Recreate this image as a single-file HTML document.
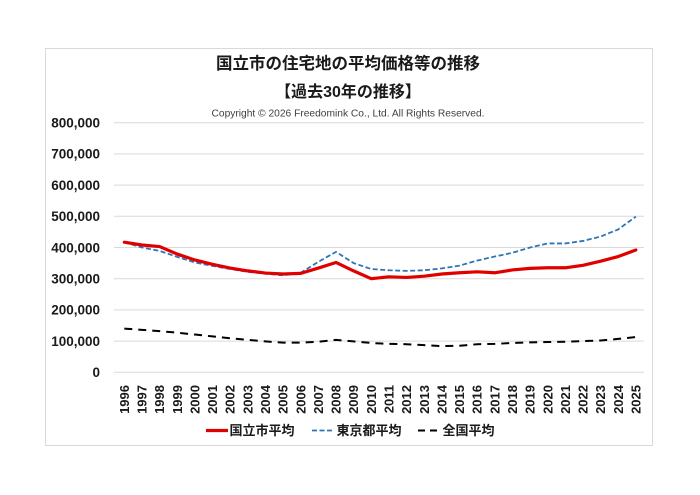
<!DOCTYPE html>
<html>
<head>
<meta charset="utf-8">
<style>
html,body{margin:0;padding:0;background:#fff;}
svg{display:block;}
text{font-family:"Liberation Sans","Noto Sans CJK JP",sans-serif;}
</style>
</head>
<body>
<svg width="700" height="495" viewBox="0 0 700 495" xmlns="http://www.w3.org/2000/svg">
<rect x="0" y="0" width="700" height="495" fill="#fff"/>
<rect x="45.5" y="48.5" width="607" height="397" fill="#fff" stroke="#d9d9d9" stroke-width="1"/>

<!-- titles -->
<text x="348" y="69" font-size="16.5" font-weight="bold" text-anchor="middle" fill="#1a1a1a">国立市の住宅地の平均価格等の推移</text>
<text x="348" y="97" font-size="16" font-weight="bold" text-anchor="middle" fill="#1a1a1a">【過去30年の推移】</text>
<text x="348" y="116.5" font-size="10.5" text-anchor="middle" fill="#404040" textLength="273" lengthAdjust="spacingAndGlyphs">Copyright © 2026 Freedomink Co., Ltd. All Rights Reserved.</text>

<!-- gridlines -->
<g stroke="#d9d9d9" stroke-width="1">
<line x1="114" y1="122.7" x2="644" y2="122.7"/>
<line x1="114" y1="153.9" x2="644" y2="153.9"/>
<line x1="114" y1="185.1" x2="644" y2="185.1"/>
<line x1="114" y1="216.3" x2="644" y2="216.3"/>
<line x1="114" y1="247.5" x2="644" y2="247.5"/>
<line x1="114" y1="278.7" x2="644" y2="278.7"/>
<line x1="114" y1="309.9" x2="644" y2="309.9"/>
<line x1="114" y1="341.1" x2="644" y2="341.1"/>
<line x1="114" y1="372.3" x2="644" y2="372.3"/>
</g>

<!-- y labels -->
<g font-size="13.5" font-weight="bold" text-anchor="end" fill="#1a1a1a">
<text x="100" y="127.5">800,000</text>
<text x="100" y="158.7">700,000</text>
<text x="100" y="189.9">600,000</text>
<text x="100" y="221.1">500,000</text>
<text x="100" y="252.3">400,000</text>
<text x="100" y="283.5">300,000</text>
<text x="100" y="314.7">200,000</text>
<text x="100" y="345.9">100,000</text>
<text x="100" y="377.1">0</text>
</g>

<!-- x labels -->
<g font-size="13" font-weight="bold" text-anchor="end" fill="#1a1a1a">
<text transform="translate(128.9,385) rotate(-90)">1996</text>
<text transform="translate(146.5,385) rotate(-90)">1997</text>
<text transform="translate(164.2,385) rotate(-90)">1998</text>
<text transform="translate(181.8,385) rotate(-90)">1999</text>
<text transform="translate(199.5,385) rotate(-90)">2000</text>
<text transform="translate(217.1,385) rotate(-90)">2001</text>
<text transform="translate(234.7,385) rotate(-90)">2002</text>
<text transform="translate(252.4,385) rotate(-90)">2003</text>
<text transform="translate(270.0,385) rotate(-90)">2004</text>
<text transform="translate(287.7,385) rotate(-90)">2005</text>
<text transform="translate(305.3,385) rotate(-90)">2006</text>
<text transform="translate(322.9,385) rotate(-90)">2007</text>
<text transform="translate(340.6,385) rotate(-90)">2008</text>
<text transform="translate(358.2,385) rotate(-90)">2009</text>
<text transform="translate(375.9,385) rotate(-90)">2010</text>
<text transform="translate(393.5,385) rotate(-90)">2011</text>
<text transform="translate(411.1,385) rotate(-90)">2012</text>
<text transform="translate(428.8,385) rotate(-90)">2013</text>
<text transform="translate(446.4,385) rotate(-90)">2014</text>
<text transform="translate(464.1,385) rotate(-90)">2015</text>
<text transform="translate(481.7,385) rotate(-90)">2016</text>
<text transform="translate(499.3,385) rotate(-90)">2017</text>
<text transform="translate(517.0,385) rotate(-90)">2018</text>
<text transform="translate(534.6,385) rotate(-90)">2019</text>
<text transform="translate(552.3,385) rotate(-90)">2020</text>
<text transform="translate(569.9,385) rotate(-90)">2021</text>
<text transform="translate(587.5,385) rotate(-90)">2022</text>
<text transform="translate(605.2,385) rotate(-90)">2023</text>
<text transform="translate(622.8,385) rotate(-90)">2024</text>
<text transform="translate(640.5,385) rotate(-90)">2025</text>
</g>

<!-- series -->
<g transform="translate(124.3,372.3) scale(17.64,-0.312)" fill="none">
<polyline vector-effect="non-scaling-stroke" stroke="#000" stroke-width="2" stroke-dasharray="8,6"
points="0,140 1,136 2,132 3,127 4,121 5,115 6,109 7,104 8,99 9,95 10,95 11,98 12,104 13,99 14,94 15,91 16,90 17,87 18,84 19,85 20,90 21,91 22,94 23,96 24,97 25,98 26,100 27,102 28,107 29,113"/>
<polyline vector-effect="non-scaling-stroke" stroke="#2e75b6" stroke-width="1.8" stroke-dasharray="5,2.5" stroke-linejoin="round"
points="0,417 1,400 2,389 3,370 4,352 5,341 6,331 7,322 8,316 9,311 10,319 11,354 12,386 13,350 14,331 15,327 16,325 17,327 18,333 19,342 20,358 21,371 22,383 23,400 24,413 25,413 26,421 27,435 28,458 29,499"/>
<polyline vector-effect="non-scaling-stroke" stroke="#e00000" stroke-width="3.2" stroke-linejoin="round" stroke-linecap="round"
points="0,417 1,408 2,403 3,379 4,360 5,346 6,334 7,325 8,318 9,315 10,317 11,334 12,352 13,325 14,300 15,306 16,304 17,308 18,315 19,319 20,322 21,319 22,328 23,333 24,335 25,335 26,343 27,356 28,371 29,392"/>
</g>

<!-- legend -->
<line x1="206" y1="430.5" x2="228" y2="430.5" stroke="#e00000" stroke-width="3.2"/>
<text x="229.5" y="435.2" font-size="13" font-weight="bold" fill="#1a1a1a">国立市平均</text>
<line x1="312" y1="430.5" x2="332" y2="430.5" stroke="#2e75b6" stroke-width="1.8" stroke-dasharray="5,2.5"/>
<text x="336.5" y="435.2" font-size="13" font-weight="bold" fill="#1a1a1a">東京都平均</text>
<line x1="418" y1="430.5" x2="437" y2="430.5" stroke="#000" stroke-width="2" stroke-dasharray="7,5"/>
<text x="442.5" y="435.2" font-size="13" font-weight="bold" fill="#1a1a1a">全国平均</text>
</svg>
</body>
</html>
